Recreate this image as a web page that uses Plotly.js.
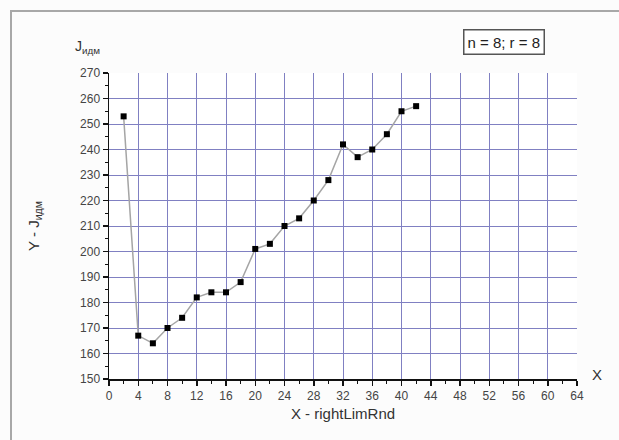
<!DOCTYPE html>
<html>
<head>
<meta charset="utf-8">
<script src="https://cdn.plot.ly/plotly-3.0.1.min.js"></script>
<style>
  html, body { margin:0; padding:0; background:#fcfcfc; overflow:hidden; }
  #chart { width:619px; height:440px; }
  #frame { position:absolute; left:10px; top:10px; width:700px; height:500px;
           border-top:2px solid #a8a8a8; border-left:2px solid #a8a8a8; pointer-events:none; }
</style>
</head>
<body>
<div id="chart"></div>
<div id="frame"></div>
<script>
const xValues = [2, 4, 6, 8, 10, 12, 14, 16, 18, 20, 22, 24, 26, 28, 30, 32, 34, 36, 38, 40, 42];
const yValues = [253, 167, 164, 170, 174, 182, 184, 184, 188, 201, 203, 210, 213, 220, 228, 242, 237, 240, 246, 255, 257];
const xGridVals = [4, 8, 12, 16, 20, 24, 28, 32, 36, 40, 44, 48, 52, 56, 60];
const yGridVals = [160, 170, 180, 190, 200, 210, 220, 230, 240, 250, 260];
const xTitle = 'X - rightLimRnd';
const yTitle = 'Y - J<sub>идм</sub>';
const topLabel = 'J<sub>идм</sub>';
const infoText = 'n = 8; r = 8';

const trace = {
  x: xValues, y: yValues, type: 'scatter', mode: 'lines+markers',
  line: {color: '#a5a5a5', width: 1.5},
  marker: {symbol: 'square', size: 6, color: '#000'},
  showlegend: false
};

const fam = 'Arial, Liberation Sans, sans-serif';
const tickFont = {family: fam, size: 12, color: '#444'};

const layout = {
  width: 619, height: 440,
  margin: {l: 109, r: 42, t: 73, b: 61},
  paper_bgcolor: 'rgba(0,0,0,0)', plot_bgcolor: '#ffffff',
  showlegend: false,
  xaxis: {
    range: [0, 64], dtick: 4, tick0: 0, showgrid: false, zeroline: false,
    showline: true, linecolor: '#111', linewidth: 1.5,
    ticks: 'outside', ticklen: 5, tickwidth: 1.5, tickcolor: '#111',
    minor: {dtick: 2, ticks: 'outside', ticklen: 3, tickcolor: '#111', tickwidth: 1.2},
    tickfont: tickFont,
    title: {text: xTitle, font: {family: fam, size: 15, color: '#333'}, standoff: 6},
    automargin: false
  },
  yaxis: {
    range: [150, 270], dtick: 10, tick0: 150, showgrid: false, zeroline: false,
    showline: true, linecolor: '#111', linewidth: 1.5,
    ticks: 'outside', ticklen: 5, tickwidth: 1.5, tickcolor: '#111',
    minor: {dtick: 5, ticks: 'outside', ticklen: 3, tickcolor: '#111', tickwidth: 1.2},
    tickfont: tickFont,
    title: {text: yTitle, font: {family: fam, size: 15, color: '#333'}, standoff: 37},
    automargin: false
  },
  xaxis2: {
    overlaying: 'x', range: [0, 64], tickmode: 'array', tickvals: xGridVals,
    showticklabels: false, ticks: '', showgrid: true, gridcolor: '#8080c2', gridwidth: 1,
    zeroline: false, showline: false
  },
  yaxis2: {
    overlaying: 'y', range: [150, 270], tickmode: 'array', tickvals: yGridVals,
    showticklabels: false, ticks: '', showgrid: true, gridcolor: '#8080c2', gridwidth: 1,
    zeroline: false, showline: false
  },
  annotations: [
    {text: topLabel, xref: 'paper', yref: 'paper', x: -0.045, y: 1.085, showarrow: false,
     xanchor: 'center', yanchor: 'middle', font: {family: fam, size: 14, color: '#333'}},
    {text: infoText, xref: 'paper', yref: 'paper', x: 0.844, y: 1.10, showarrow: false,
     xanchor: 'center', yanchor: 'middle', bordercolor: '#555', borderwidth: 1.5, borderpad: 3, bgcolor: '#fff',
     font: {family: fam, size: 15, color: '#222'}},
    {text: 'X', xref: 'paper', yref: 'paper', x: 1.043, y: 0.015, showarrow: false,
     xanchor: 'center', yanchor: 'middle', font: {family: fam, size: 15, color: '#333'}}
  ]
};

const gridTrace = {x: [null], y: [null], xaxis: 'x2', yaxis: 'y2', showlegend: false, hoverinfo: 'skip', mode: 'markers'};

Plotly.newPlot('chart', [gridTrace, trace], layout, {displayModeBar: false, staticPlot: true});
</script>
</body>
</html>
